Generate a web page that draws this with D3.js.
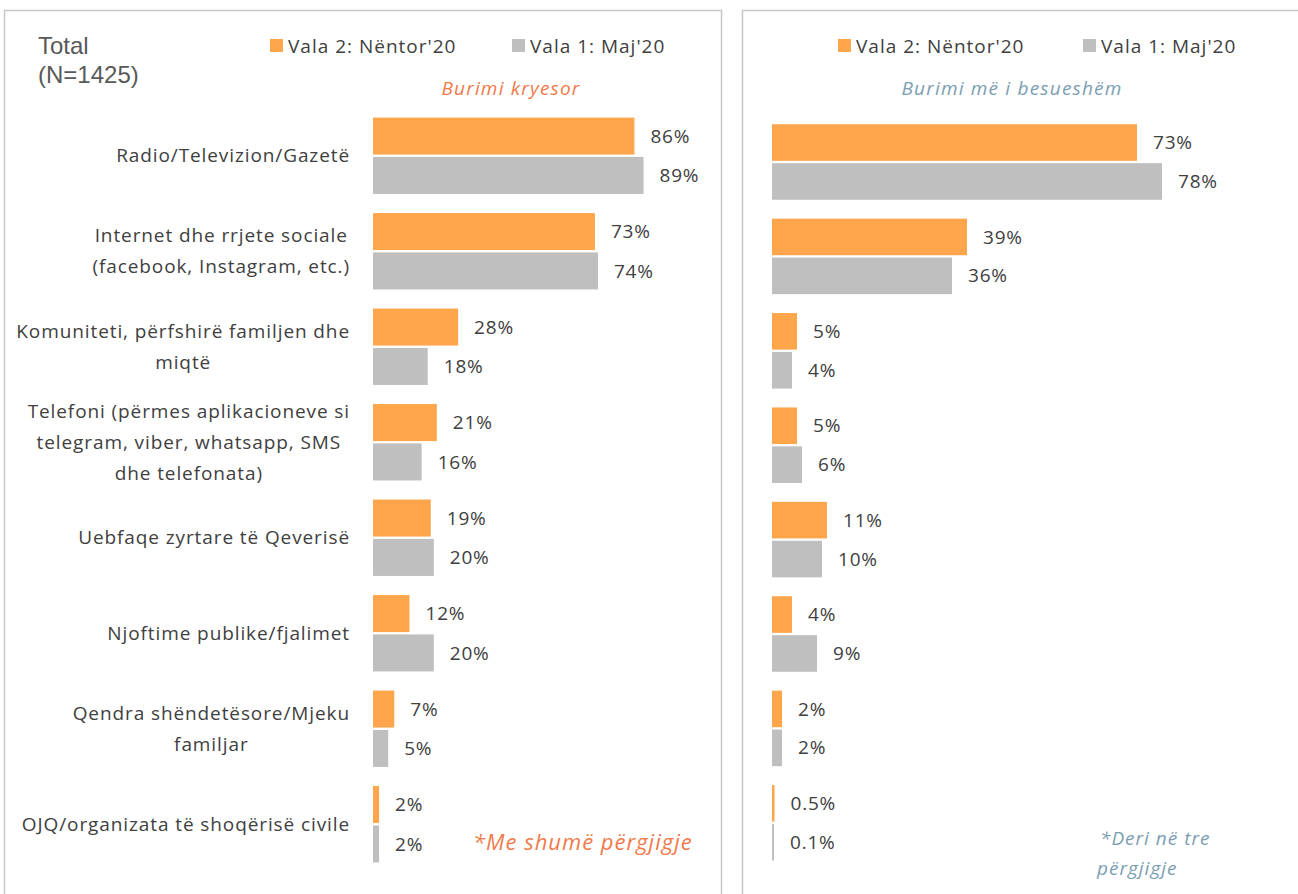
<!DOCTYPE html>
<html>
<head>
<meta charset="utf-8">
<script src="https://cdn.jsdelivr.net/npm/d3@7"></script>
<style>
  body { margin: 0; background: #fff; }
  svg { display: block; }
</style>
</head>
<body>
<svg id="chart"></svg>
<script>
// Data
const categories = [
    ["Radio/Televizion/Gazetë"],
    ["Internet dhe rrjete sociale", "(facebook, Instagram, etc.)"],
    ["Komuniteti, përfshirë familjen dhe", "miqtë"],
    ["Telefoni (përmes aplikacioneve si", "telegram, viber, whatsapp, SMS", "dhe telefonata)"],
    ["Uebfaqe zyrtare të Qeverisë"],
    ["Njoftime publike/fjalimet"],
    ["Qendra shëndetësore/Mjeku", "familjar"],
    ["OJQ/organizata të shoqërisë civile"]
];
const seriesNames = ["Vala 2: Nëntor'20", "Vala 1: Maj'20"];
const mainNov = [86, 73, 28, 21, 19, 12, 7, 2];
const mainMay = [89, 74, 18, 16, 20, 20, 5, 2];
const trustNov = [73, 39, 5, 5, 11, 4, 2, 0.5];
const trustMay = [78, 36, 4, 6, 10, 9, 2, 0.1];

const colors = ["#FFA64D", "#BFBFBF"];
const textColor = "#404040";
const font = "'Open Sans', sans-serif";

const width = 1298, height = 894;
const svg = d3.select("#chart").attr("width", width).attr("height", height);

// panel frames
svg.append("rect").attr("x", 4.5).attr("y", 10.5).attr("width", 717).attr("height", 900)
    .attr("fill", "none").attr("stroke", "#c8c8c8").attr("stroke-width", 1.5);
svg.append("rect").attr("x", 742.5).attr("y", 10.5).attr("width", 600).attr("height", 900)
    .attr("fill", "none").attr("stroke", "#c8c8c8").attr("stroke-width", 1.5);

const idx = d3.range(categories.length);

function drawPanel(opts) {
    const g = svg.append("g");
    const x = d3.scaleLinear().domain([0, 100]).range(opts.xRange);
    const y = d3.scaleBand().domain(idx).range(opts.yRange)
        .paddingInner(0.2).paddingOuter(0.1);
    const y1 = d3.scaleBand().domain([0, 1]).range([0, y.bandwidth()]).paddingInner(0.06);

    const rows = idx.map(i => [opts.a[i], opts.b[i]]);
    const grp = g.selectAll("g.cat").data(rows).join("g")
        .attr("class", "cat")
        .attr("transform", (d, i) => `translate(0,${y(i)})`);

    grp.selectAll("rect").data(d => d).join("rect")
        .attr("x", x(0))
        .attr("y", (d, j) => y1(j))
        .attr("width", d => Math.max(2, x(d) - x(0)))
        .attr("height", y1.bandwidth())
        .attr("fill", (d, j) => colors[j]);

    grp.selectAll("text").data(d => d).join("text")
        .attr("x", d => Math.max(x(d), x(0) + 2) + 16)
        .attr("y", (d, j) => y1(j) + y1.bandwidth() / 2)
        .attr("dy", "0.35em")
        .attr("font-family", font)
        .attr("font-size", 19)
        .attr("letter-spacing", 0.8)
        .attr("fill", textColor)
        .text(d => d + "%");

    // legend
    const leg = g.append("g");
    opts.legendX.forEach((lx, j) => {
        leg.append("rect").attr("x", lx).attr("y", 39).attr("width", 13).attr("height", 13)
            .attr("fill", colors[j]);
        leg.append("text").attr("x", lx + 18).attr("y", 46).attr("dy", "0.35em")
            .attr("font-family", font).attr("font-size", 19).attr("letter-spacing", 1)
            .attr("fill", textColor)
            .text(seriesNames[j]);
    });

    // subtitle
    g.append("text").attr("x", opts.subX).attr("y", 88).attr("dy", "0.35em")
        .attr("text-anchor", "middle").attr("font-family", font).attr("font-size", 19)
        .attr("letter-spacing", 1.2)
        .attr("font-style", "italic").attr("fill", opts.accent).text(opts.subtitle);

    return y;
}

const yLeft = drawPanel({
    a: mainNov, b: mainMay,
    xRange: [373, 677], yRange: [108, 872],
    legendX: [270, 512], subX: 511, subtitle: "Burimi kryesor", accent: "#F07A4A"
});
drawPanel({
    a: trustNov, b: trustMay,
    xRange: [772, 1272], yRange: [114.8, 870],
    legendX: [838, 1083], subX: 1012, subtitle: "Burimi më i besueshëm", accent: "#7B9EB3"
});

// category labels (lines centered inside a block right-aligned at x=350)
const lineH = 31;
const labels = svg.append("g").attr("font-family", font).attr("font-size", 19)
    .attr("letter-spacing", 0.9).attr("fill", textColor);
categories.forEach((lines, i) => {
    const t = labels.append("text").attr("text-anchor", "middle");
    const cy = yLeft(i) + yLeft.bandwidth() / 2;
    const spans = t.selectAll("tspan").data(lines).join("tspan")
        .attr("y", (d, k) => cy + (k - (lines.length - 1) / 2) * lineH)
        .attr("dy", "0.35em")
        .text(d => d);
    let maxW = 0;
    spans.each(function () { maxW = Math.max(maxW, this.getComputedTextLength()); });
    spans.attr("x", 350 - maxW / 2);
});

// Total label
const totalFont = "'Liberation Sans', Arial, sans-serif";
svg.append("text").attr("x", 38).attr("y", 46).attr("dy", "0.35em")
    .attr("font-family", totalFont).attr("font-size", 24)
    .attr("fill", "#595959").text("Total");
svg.append("text").attr("x", 38).attr("y", 75).attr("dy", "0.35em")
    .attr("font-family", totalFont).attr("font-size", 24)
    .attr("fill", "#595959").text("(N=1425)");

// footnotes
svg.append("text").attr("x", 473).attr("y", 842).attr("dy", "0.35em")
    .attr("font-family", font).attr("font-size", 22).attr("font-style", "italic")
    .attr("letter-spacing", 1)
    .attr("fill", "#F07A4A").text("*Me shumë përgjigje");
const fn = svg.append("text").attr("font-family", font).attr("font-size", 19)
    .attr("font-style", "italic").attr("letter-spacing", 1).attr("fill", "#7B9EB3");
fn.append("tspan").attr("x", 1100).attr("y", 838).attr("dy", "0.35em").text("*Deri në tre");
fn.append("tspan").attr("x", 1097).attr("y", 868).attr("dy", "0.35em").text("përgjigje");
</script>
</body>
</html>
